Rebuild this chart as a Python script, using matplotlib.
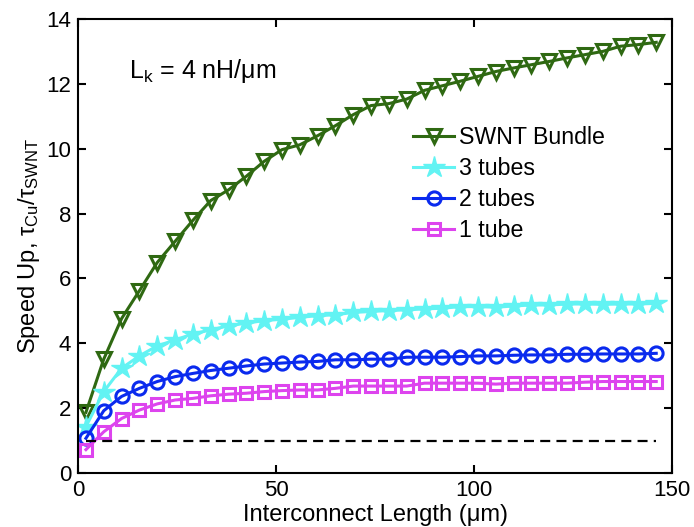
import matplotlib
matplotlib.use('Agg')
import matplotlib.pyplot as plt

plt.rcParams['font.family'] = ['Liberation Sans', 'DejaVu Sans']
plt.rcParams['mathtext.fontset'] = 'custom'
plt.rcParams['mathtext.rm'] = 'Liberation Sans'
plt.rcParams['mathtext.it'] = 'Liberation Sans:italic'

# interconnect length (um)
length = [2, 6.5, 11, 15.5, 20, 24.5, 29, 33.5, 38, 42.5, 47, 51.5, 56, 60.5,
          65, 69.5, 74, 78.5, 83, 87.5, 92, 96.5, 101, 105.5, 110, 114.5, 119,
          123.5, 128, 132.5, 137, 141.5, 146]

bundle = [1.87, 3.51, 4.76, 5.62, 6.49, 7.14, 7.79, 8.40, 8.73, 9.15, 9.61,
          9.97, 10.12, 10.40, 10.71, 11.05, 11.33, 11.39, 11.53, 11.80, 11.94,
          12.08, 12.23, 12.38, 12.49, 12.59, 12.69, 12.80, 12.90, 13.00, 13.16,
          13.21, 13.28]
tubes3 = [1.43, 2.51, 3.23, 3.61, 3.92, 4.10, 4.29, 4.41, 4.54, 4.62, 4.70,
          4.74, 4.80, 4.85, 4.88, 4.95, 4.98, 5.01, 5.03, 5.06, 5.08, 5.13,
          5.13, 5.11, 5.15, 5.18, 5.18, 5.21, 5.21, 5.20, 5.21, 5.21, 5.23]
tubes2 = [1.07, 1.92, 2.36, 2.61, 2.82, 2.97, 3.07, 3.16, 3.23, 3.30, 3.36,
          3.39, 3.42, 3.44, 3.49, 3.49, 3.51, 3.51, 3.57, 3.57, 3.57, 3.59,
          3.61, 3.61, 3.63, 3.64, 3.64, 3.66, 3.66, 3.67, 3.67, 3.67, 3.69]
tube1 = [0.72, 1.27, 1.68, 1.94, 2.13, 2.25, 2.30, 2.38, 2.43, 2.46, 2.51,
         2.54, 2.56, 2.56, 2.61, 2.68, 2.68, 2.68, 2.68, 2.77, 2.77, 2.77,
         2.77, 2.74, 2.77, 2.77, 2.77, 2.77, 2.80, 2.82, 2.82, 2.82, 2.82]
baseline = 1.0

fig = plt.figure(figsize=(6.94, 5.27), dpi=100)
ax = fig.add_axes([0.1124, 0.1025, 0.856, 0.8615])

ax.plot(length, bundle, '-v', color='#2F6912', lw=2.2, ms=10.5, mfc='none',
        mew=2.2, label='SWNT Bundle')
ax.plot(length, tubes3, '-*', color='#62F3F3', lw=2.2, ms=16, mew=1,
        label='3 tubes')
ax.plot(length, tubes2, '-o', color='#0A2AEE', lw=2.2, ms=9.5, mfc='none',
        mew=2.2, label='2 tubes')
ax.plot(length, tube1, '-s', color='#DD44EE', lw=2.2, ms=8.5, mfc='none',
        mew=2.2, label='1 tube')
ax.plot([length[0], length[-1]], [baseline, baseline], color='black', lw=1.6,
        dashes=(4.5, 2.8))

ax.set_xlim(0, 150)
ax.set_ylim(0, 14)
ax.set_xticks([0, 50, 100, 150])
ax.set_yticks(range(0, 15, 2))
ax.tick_params(direction='in', length=6, width=1.5, top=True, right=True,
               labelsize=16, pad=5)
for s in ax.spines.values():
    s.set_linewidth(1.5)

ax.set_xlabel('Interconnect Length (μm)', fontsize=17, labelpad=2)
ax.set_ylabel('Speed Up, τ$_{\\rm Cu}$/τ$_{\\rm SWNT}$', fontsize=17,
              labelpad=3)

ax.text(13, 12.4, 'L$_{\\rm k}$ = 4 nH/μm', fontsize=18, va='center')

ax.legend(loc='upper left', bbox_to_anchor=(0.564, 0.764), frameon=False,
          fontsize=16.7, handlelength=1.77, handletextpad=0.2,
          labelspacing=0.35, borderpad=0, borderaxespad=0)

fig.savefig('out.png', dpi=100)
